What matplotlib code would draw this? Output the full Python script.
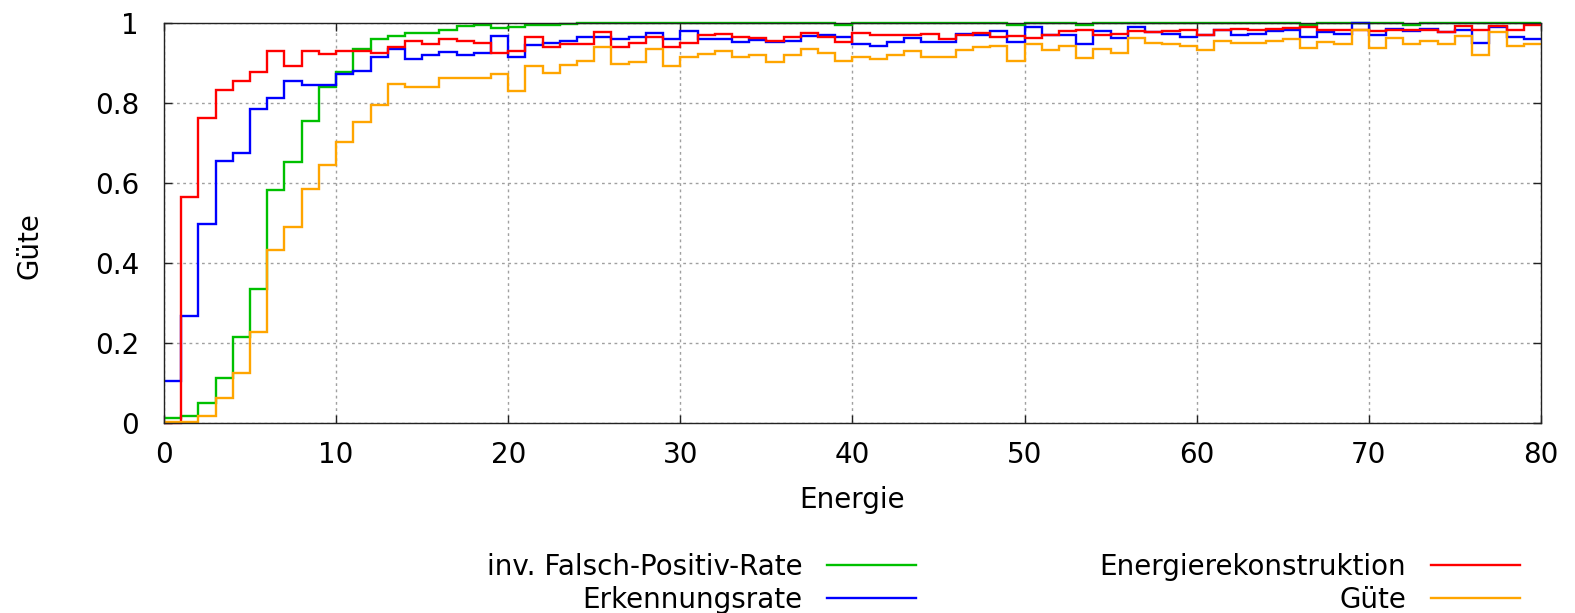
import numpy as np
import matplotlib
matplotlib.use('Agg')
import matplotlib.pyplot as plt

# Energie bins 0..80, width 1
energie_edges = np.arange(0, 81, 1)

inv_falsch_positiv = [0.011, 0.017, 0.050, 0.111, 0.215, 0.335, 0.581, 0.651, 0.755, 0.838,
                      0.876, 0.934, 0.958, 0.967, 0.975, 0.975, 0.982, 0.992, 0.994, 0.986,
                      0.990, 0.993, 0.995, 0.997, 0.999, 1.000, 1.000, 0.999, 1.000, 0.999,
                      0.998, 1.000, 1.000, 1.000, 0.999, 0.999, 1.000, 1.000, 0.999, 0.993,
                      1.000, 1.000, 1.000, 1.000, 0.999, 1.000, 0.999, 1.000, 1.000, 0.994,
                      1.000, 0.999, 0.999, 0.993, 0.999, 0.999, 1.000, 1.000, 1.000, 1.000,
                      0.999, 1.000, 1.000, 0.999, 0.999, 0.999, 0.994, 0.999, 1.000, 0.999,
                      0.999, 1.000, 0.993, 0.998, 0.998, 0.999, 0.998, 1.000, 1.000, 1.000]

erkennungsrate = [0.105, 0.267, 0.498, 0.654, 0.675, 0.785, 0.811, 0.855, 0.844, 0.844,
                  0.871, 0.879, 0.913, 0.935, 0.909, 0.918, 0.926, 0.919, 0.923, 0.967,
                  0.913, 0.944, 0.948, 0.954, 0.965, 0.965, 0.958, 0.965, 0.973, 0.958,
                  0.978, 0.958, 0.958, 0.951, 0.957, 0.951, 0.955, 0.967, 0.969, 0.965,
                  0.946, 0.942, 0.951, 0.961, 0.951, 0.951, 0.972, 0.969, 0.978, 0.951,
                  0.988, 0.969, 0.969, 0.946, 0.978, 0.961, 0.988, 0.976, 0.972, 0.965,
                  0.969, 0.982, 0.969, 0.972, 0.978, 0.981, 0.965, 0.976, 0.972, 1.000,
                  0.969, 0.985, 0.978, 0.985, 0.976, 0.982, 0.949, 0.988, 0.965, 0.959]

energierekonstruktion = [0.000, 0.565, 0.762, 0.832, 0.855, 0.877, 0.928, 0.892, 0.928, 0.922,
                         0.928, 0.928, 0.923, 0.940, 0.954, 0.946, 0.958, 0.954, 0.948, 0.923,
                         0.928, 0.965, 0.940, 0.946, 0.946, 0.977, 0.938, 0.950, 0.965, 0.938,
                         0.948, 0.969, 0.972, 0.963, 0.961, 0.955, 0.965, 0.975, 0.963, 0.951,
                         0.975, 0.969, 0.969, 0.969, 0.972, 0.958, 0.969, 0.973, 0.965, 0.967,
                         0.962, 0.969, 0.978, 0.982, 0.969, 0.972, 0.980, 0.976, 0.978, 0.982,
                         0.969, 0.982, 0.985, 0.982, 0.985, 0.987, 0.988, 0.982, 0.981, 0.981,
                         0.978, 0.981, 0.981, 0.981, 0.976, 0.992, 0.981, 0.991, 0.982, 0.993]

guete = [0.002, 0.003, 0.017, 0.061, 0.125, 0.228, 0.432, 0.490, 0.583, 0.645,
         0.702, 0.751, 0.794, 0.847, 0.838, 0.838, 0.862, 0.861, 0.862, 0.871,
         0.829, 0.892, 0.875, 0.894, 0.904, 0.938, 0.896, 0.902, 0.933, 0.892,
         0.915, 0.922, 0.928, 0.913, 0.919, 0.902, 0.919, 0.934, 0.923, 0.905,
         0.915, 0.908, 0.919, 0.928, 0.915, 0.915, 0.932, 0.938, 0.942, 0.904,
         0.946, 0.932, 0.942, 0.911, 0.934, 0.924, 0.961, 0.948, 0.946, 0.942,
         0.932, 0.955, 0.948, 0.948, 0.955, 0.958, 0.936, 0.951, 0.947, 0.981,
         0.937, 0.961, 0.947, 0.954, 0.946, 0.967, 0.919, 0.976, 0.942, 0.946]

series = [
    ('inv. Falsch-Positiv-Rate', inv_falsch_positiv, '#00c000'),
    ('Erkennungsrate', erkennungsrate, '#0000ff'),
    ('Energierekonstruktion', energierekonstruktion, '#ff0000'),
    ('G\u00fcte', guete, '#ffa500'),
]

x_ticks = [0, 10, 20, 30, 40, 50, 60, 70, 80]
y_ticks = [0, 0.2, 0.4, 0.6, 0.8, 1.0]
y_ticklabels = ['0', '0.2', '0.4', '0.6', '0.8', '1']

fs = 20
plt.rcParams['font.family'] = ['DejaVu Sans']

fig = plt.figure(figsize=(15.75, 6.13), dpi=100)
ax = fig.add_axes([0.1041, 0.3104, 0.9784 - 0.1041, 0.963 - 0.3104])

handles = []
for i, (name, vals, color) in enumerate(series):
    h = ax.stairs(vals, energie_edges, baseline=None, color=color, linewidth=1.7,
                  label=name, zorder=2 + i * 0.01, clip_on=False)
    handles.append(h)

ax.set_xlim(0, 80)
ax.set_ylim(0, 1)
ax.set_xticks(x_ticks)
ax.set_yticks(y_ticks)
ax.set_yticklabels(y_ticklabels)
ax.tick_params(axis='both', direction='in', top=True, right=True, length=6, width=1,
               labelsize=fs, color='#222222')
ax.tick_params(axis='x', pad=13)
ax.tick_params(axis='y', pad=18)
for sp in ax.spines.values():
    sp.set_linewidth(1.0)
    sp.set_color('#222222')
    sp.set_zorder(3)

ax.grid(True, color='#a0a0a0', linestyle=(0, (2, 2.5)), linewidth=1.0)
ax.set_axisbelow(True)

ax.set_xlabel('Energie', fontsize=fs, va='center')
ax.xaxis.set_label_coords(0.5, -0.192)
ax.set_ylabel('G\u00fcte', fontsize=fs, va='center')
ax.yaxis.set_label_coords(-0.098, 0.442)

fig.legend(handles, [s[0] for s in series], ncol=2, markerfirst=False, frameon=False,
           loc='center', bbox_to_anchor=(0.637, 0.0484), fontsize=fs,
           handlelength=3.2, handletextpad=0.9, columnspacing=6.6,
           labelspacing=0.2, borderpad=0)

plt.savefig('out.png', dpi=100)
